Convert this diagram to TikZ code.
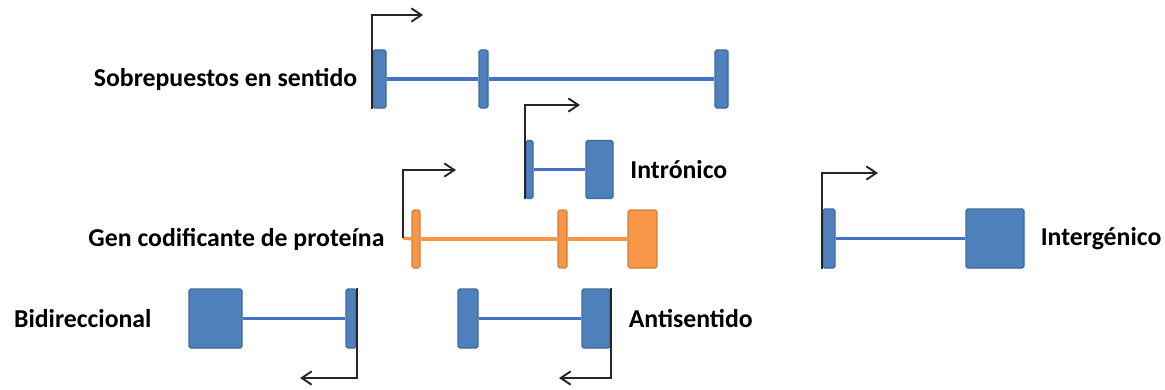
\documentclass[tikz,border=0pt]{standalone}
\usepackage{fontspec}
\setmainfont{Carlito}
\usetikzlibrary{positioning,arrows.meta}
\definecolor{exonblue}{RGB}{79,129,189}
\definecolor{intronblue}{RGB}{68,114,196}
\definecolor{exonorange}{RGB}{247,150,70}
\def\px{0.03cm}
\tikzset{
  exon/.style 2 args={rectangle, rounded corners=1.5pt, inner sep=0pt, line width=1pt,
    draw=exonblue!80!black, fill=exonblue, minimum width=#1*\px, minimum height=#2*\px},
  cds/.style 2 args={exon={#1}{#2}, draw=exonorange!85!black, fill=exonorange},
  intron/.style={draw=intronblue, line width=2.8pt},
  introncds/.style={draw=exonorange, line width=2.8pt},
  tss/.style={draw=black!85, line width=1.6pt, -{Straight Barb[length=0.3cm, width=0.4cm]}},
  lbl/.style={font=\bfseries\fontsize{22}{26}\selectfont, inner sep=0pt}
}
\begin{document}
\begin{tikzpicture}[x=0.03cm, y=-0.03cm]
	\useasboundingbox (0,0) rectangle (1165,390);
	% sobrepuestos en sentido
	\node[exon={13}{58}] (s1) at (379.5,79) {};
	\node[exon={9}{58}] (s2) at (483.5,79) {};
	\node[exon={13}{58}] (s3) at (721.5,79) {};
	\node[lbl, left=0.45cm of s1] (ls) {Sobrepuestos en sentido};
	\draw[intron] (s1.east) -- (s2.west);
	\draw[intron] (s2.east) -- (s3.west);
	\coordinate (s1tip) at (423,15);
	\draw[tss] (s1.south west) |- (s1tip);
	% intronico
	\node[exon={7}{58}] (i1) at (529.5,169.5) {};
	\node[exon={27}{58}] (i2) at (599.5,169.5) {};
	\node[lbl, right=0.5cm of i2] (li) {Intrónico};
	\draw[intron] (i1.east) -- (i2.west);
	\coordinate (i1tip) at (580,105);
	\draw[tss] (i1.south west) |- (i1tip);
	% gen codificante
	\coordinate (g0) at (403,238);
	\node[cds={8}{58}] (g1) at (416,239) {};
	\node[cds={9}{58}] (g2) at (562.5,239) {};
	\node[cds={29}{58}] (g3) at (642.5,239) {};
	\node[lbl, left=0.8cm of g1] (lg) {Gen codificante de proteína};
	\draw[introncds] (g0) -- (g1.west);
	\draw[introncds] (g1.east) -- (g2.west);
	\draw[introncds] (g2.east) -- (g3.west);
	\coordinate (g1tip) at (456,170);
	\draw[tss] (g0) |- (g1tip);
	% intergenico
	\node[exon={12}{59}] (e1) at (829,238.5) {};
	\node[exon={58}{59}] (e2) at (995,238.5) {};
	\node[lbl, right=0.48cm of e2] (le) {Intergénico};
	\draw[intron] (e1.east) -- (e2.west);
	\coordinate (e1tip) at (878,173);
	\draw[tss] (e1.south west) |- (e1tip);
	% bidireccional
	\node[exon={53}{59}] (b1) at (215.5,318.5) {};
	\node[exon={10}{59}] (b2) at (351,318.5) {};
	\node[lbl, left=1.1cm of b1] (lb) {Bidireccional};
	\draw[intron] (b1.east) -- (b2.west);
	\coordinate (b2tip) at (300,378);
	\draw[tss] (b2.north east) |- (b2tip);
	% antisentido
	\node[exon={20}{59}] (a1) at (468,318.5) {};
	\node[exon={28}{59}] (a2) at (596,318.5) {};
	\node[lbl, right=0.54cm of a2] (la) {Antisentido};
	\draw[intron] (a1.east) -- (a2.west);
	\coordinate (a2tip) at (559,378);
	\draw[tss] (a2.north east) |- (a2tip);
\end{tikzpicture}
\end{document}
